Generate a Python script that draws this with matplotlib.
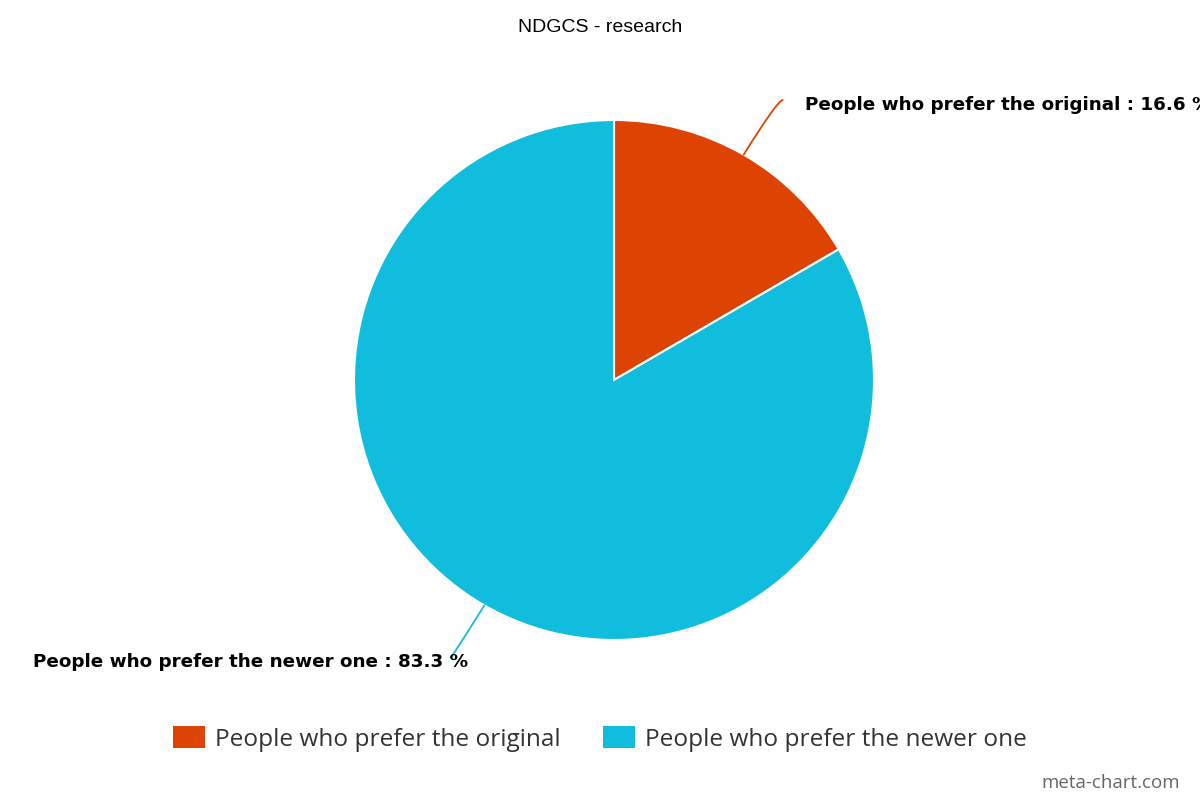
import matplotlib.pyplot as plt
from matplotlib.patches import Patch
import numpy as np

title = "NDGCS - research"
labels = ["People who prefer the original", "People who prefer the newer one"]
values = [16.6, 83.3]
colors = ["#dd4404", "#10bddc"]

# label layout (axes data units, pie radius = 1)
line_offsets = [(0.15, 0.21), (-0.13, -0.20)]
text_offsets = [(0.085, -0.02), (0.066, -0.016)]
text_align = ["left", "right"]


def main():
    fig = plt.figure(figsize=(12, 8), dpi=100)
    ax = fig.add_axes([354 / 1200, 160 / 800, 520 / 1200, 520 / 800])
    wedges, _ = ax.pie(values, colors=colors, startangle=90, counterclock=False,
                       radius=1, wedgeprops=dict(edgecolor="white", linewidth=1.5))
    ax.set_xlim(-1, 1)
    ax.set_ylim(-1, 1)
    ax.set_aspect("equal")

    for w, lab, v, lo, to, ha in zip(wedges, labels, values, line_offsets, text_offsets, text_align):
        ang = np.deg2rad((w.theta1 + w.theta2) / 2)
        px, py = np.cos(ang), np.sin(ang)
        ex, ey = px + lo[0], py + lo[1]
        ax.annotate("", xy=(px, py), xytext=(ex, ey), annotation_clip=False,
                    arrowprops=dict(arrowstyle="-", color=w.get_facecolor(), lw=1.3,
                                    shrinkA=0, shrinkB=0,
                                    connectionstyle="angle3,angleA=0,angleB=58"))
        ax.text(ex + to[0], ey + to[1], f"{lab} : {v} %", ha=ha, va="center",
                fontsize=13.2, fontweight="bold", family="DejaVu Sans",
                color="black", clip_on=False)

    fig.text(0.5, 1 - 27 / 800, title, ha="center", va="center", fontsize=14,
             family="Liberation Sans", color="black")

    handles = [Patch(facecolor=c, edgecolor="none") for c in colors]
    leg = fig.legend(handles, labels, loc="center", bbox_to_anchor=(0.5, 1 - 739 / 800),
                     ncol=2, frameon=False, prop={"family": "Open Sans", "size": 17.6},
                     handlelength=1.32, handleheight=1.0, handletextpad=0.41,
                     columnspacing=1.73)
    for t in leg.get_texts():
        t.set_color("#333333")

    fig.text(1180 / 1200, 1 - 783 / 800, "meta-chart.com", ha="right", va="center",
             fontsize=13.5, family="Open Sans", color="#666666")

    fig.savefig("out.png", dpi=100)


if __name__ == "__main__":
    main()
